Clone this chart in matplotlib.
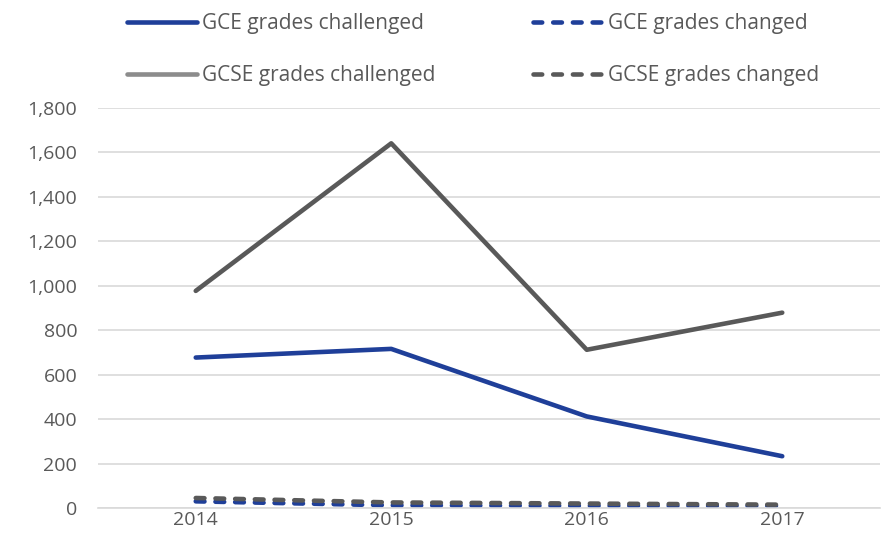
import numpy as np
import matplotlib.pyplot as plt
from matplotlib.ticker import FuncFormatter
from matplotlib.lines import Line2D

years = ['2014', '2015', '2016', '2017']
gce_challenged = [677, 716, 412, 233]
gce_changed = [30, 12, 10, 10]
gcse_challenged = [977, 1641, 712, 879]
gcse_changed = [45, 25, 20, 15]

plt.rcParams['font.family'] = ['Open Sans', 'DejaVu Sans']
txt = '#595959'

fig = plt.figure(figsize=(8.81, 5.52), dpi=100)
ax = fig.add_axes([98 / 881, 44 / 552, 782 / 881, 400 / 552])

x = np.arange(len(years))
lw = 3.3
dash = (1.9, 2.4)

ax.plot(x, gce_challenged, color='#1f3f99', lw=lw, solid_capstyle='round')
ax.plot(x, gcse_challenged, color='#595959', lw=lw, solid_capstyle='round')
ax.plot(x, gce_changed, color='#1f3f99', lw=lw, dash_capstyle='round', linestyle=(0, dash))
ax.plot(x, gcse_changed, color='#595959', lw=lw, dash_capstyle='round', linestyle=(0, dash))

ax.set_xlim(-0.5, 3.5)
ax.set_ylim(0, 1800)
ax.set_yticks(np.arange(0, 1801, 200))
ax.yaxis.set_major_formatter(FuncFormatter(lambda v, p: f'{int(v):,}'))
ax.set_xticks(x)
ax.set_xticklabels(years)
ax.grid(axis='y', color='#d9d9d9', lw=1.2)
ax.set_axisbelow(True)
for s in ['top', 'right', 'left']:
    ax.spines[s].set_visible(False)
ax.spines['bottom'].set_color('#d9d9d9')
ax.spines['bottom'].set_linewidth(1.2)
ax.tick_params(length=0, labelsize=14, colors=txt)
ax.tick_params(axis='x', pad=2)
ax.tick_params(axis='y', pad=15)

# legend handles: lighter gray for GCSE challenged as in the source
h1 = Line2D([], [], color='#1f3f99', lw=lw, solid_capstyle='round')
h2 = Line2D([], [], color='#1f3f99', lw=lw, dash_capstyle='round', linestyle=(0, dash))
h3 = Line2D([], [], color='#8c8c8c', lw=lw, solid_capstyle='round')
h4 = Line2D([], [], color='#595959', lw=lw, dash_capstyle='round', linestyle=(0, dash))
leg = fig.legend([h1, h3, h2, h4],
                 ['GCE grades challenged', 'GCSE grades challenged',
                  'GCE grades changed', 'GCSE grades changed'],
                 ncol=2, loc='upper left', bbox_to_anchor=(108 / 881, 1.01),
                 frameon=False, fontsize=15, handlelength=3.35, handletextpad=0.25,
                 columnspacing=4.7, labelspacing=1.5, labelcolor=txt)

plt.savefig('out.png', dpi=100)
plt.close(fig)
